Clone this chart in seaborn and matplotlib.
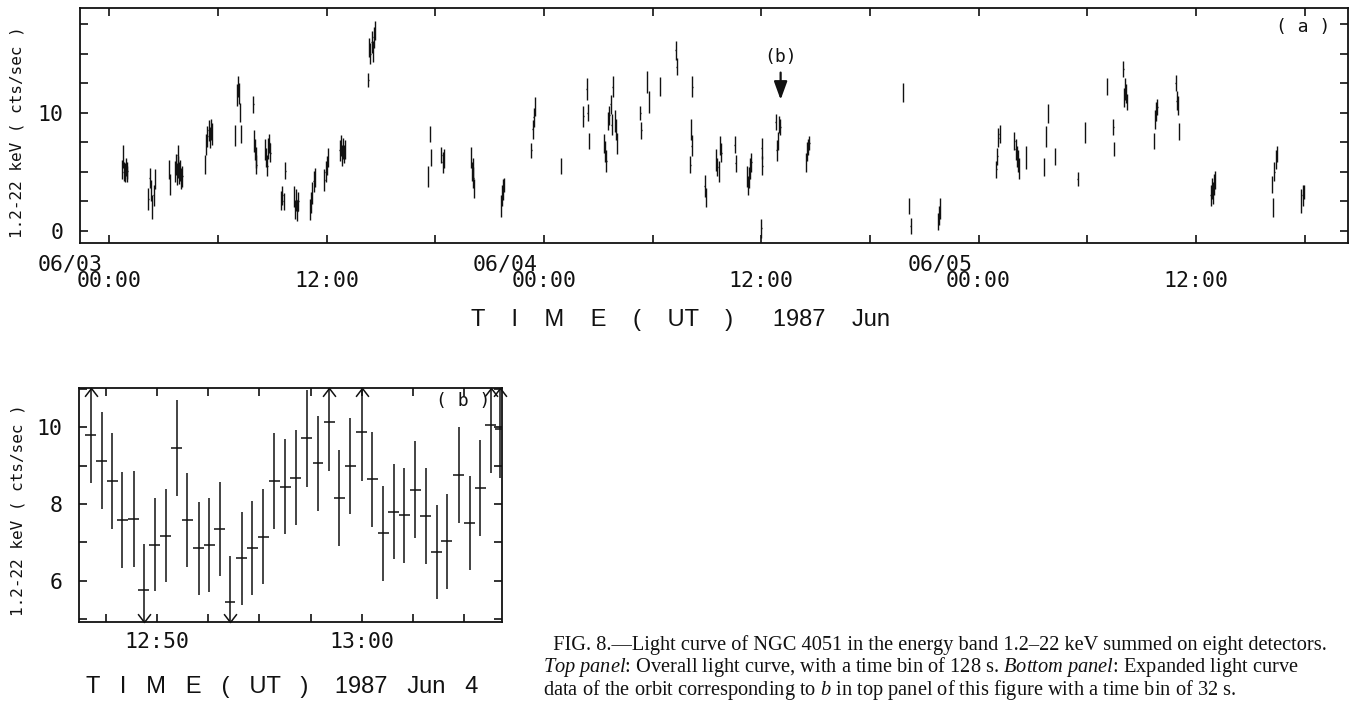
import matplotlib
matplotlib.use("Agg")
import matplotlib.pyplot as plt
import seaborn as sns
import numpy as np
from matplotlib.path import Path
from matplotlib.ticker import FixedLocator, MultipleLocator

# ---------------- data: top panel (a), hours since 1987 Jun 3 00:00 UT ----------------
a_time = [0.70, 0.75, 0.80, 0.85, 0.90, 0.95, 1.00,
          2.16, 2.22, 2.30, 2.36, 2.45, 2.52,
          3.30, 3.35, 3.62, 3.68, 3.74, 3.77, 3.80, 3.86, 3.92, 3.98, 4.04,
          5.29, 5.36, 5.42, 5.48, 5.54, 5.60, 5.66,
          6.95, 7.05, 7.10, 7.15, 7.22, 7.28,
          7.95, 8.00, 8.04, 8.08, 8.12,
          8.60, 8.66, 8.72, 8.78, 8.84, 8.90,
          9.50, 9.55, 9.62, 9.72,
          10.20, 10.26, 10.32, 10.38, 10.44,
          11.08, 11.14, 11.20, 11.28, 11.34,
          11.88, 11.94, 12.00, 12.06,
          12.72, 12.78, 12.84, 12.90, 12.96, 13.02,
          14.30, 14.36, 14.42, 14.48, 14.54, 14.60, 14.66,
          17.60, 17.70, 17.76,
          18.34, 18.40, 18.46,
          19.98, 20.02, 20.06, 20.10, 20.14,
          21.62, 21.68, 21.74, 21.80,
          23.30, 23.38, 23.44, 23.50,
          24.95,
          26.18, 26.36, 26.42, 26.48,
          27.32, 27.38, 27.44, 27.55, 27.62, 27.68, 27.74, 27.80, 27.92, 27.98, 28.04,
          29.32, 29.38, 29.70, 29.80,
          30.40,
          31.28, 31.33,
          32.08, 32.12, 32.15, 32.20,
          32.88, 32.94,
          33.52, 33.58, 33.66, 33.74, 33.80,
          34.54, 34.58,
          35.22, 35.28, 35.34, 35.40, 35.46,
          36.00, 36.03, 36.06,
          36.80, 36.86, 36.92, 36.98, 37.06,
          38.48, 38.54, 38.60, 38.66,
          43.82,
          44.15, 44.25,
          45.76, 45.82, 45.88,
          48.98, 49.04, 49.10, 49.16,
          49.98, 50.04, 50.10, 50.16, 50.22,
          50.62,
          51.62, 51.72, 51.84,
          52.22,
          53.48, 53.88,
          55.10, 55.44, 55.48,
          56.00, 56.05, 56.10, 56.15, 56.20,
          57.68, 57.76, 57.82, 57.88,
          58.88, 58.94, 59.00, 59.06,
          60.82, 60.88, 60.94, 61.00, 61.06,
          64.20, 64.26, 64.34, 64.42, 64.48,
          65.80, 65.90, 65.96]
a_rate = [5.2, 6.3, 5.0, 4.9, 5.4, 4.8, 5.1,
          2.7, 4.5, 3.4, 2.0, 3.0, 4.4,
          5.2, 3.9, 5.0, 5.6, 4.8, 6.4, 5.4, 4.9, 5.1, 4.4, 4.6,
          5.6, 7.3, 8.0, 8.5, 7.9, 8.6, 8.2,
          8.1, 11.5, 12.2, 11.6, 10.0, 8.2,
          10.7, 7.6, 6.9, 6.2, 5.6,
          6.9, 6.2, 5.5, 7.0, 7.4, 6.6,
          2.6, 3.0, 2.5, 5.1,
          2.9, 1.8, 2.6, 1.7, 2.5,
          1.8, 2.4, 3.2, 4.2, 4.5,
          4.3, 5.0, 5.5, 6.2,
          6.8, 7.2, 6.4, 7.0, 6.5, 6.9,
          12.8, 15.5, 15.0, 16.0, 15.2, 16.4, 17.0,
          4.6, 8.2, 6.2,
          6.4, 5.8, 6.1,
          6.2, 5.0, 5.3, 4.5, 3.6,
          2.1, 3.0, 3.5, 3.9,
          6.8, 8.6, 9.6, 10.5,
          5.5,
          9.7, 12.0, 10.0, 7.6,
          7.4, 6.7, 5.9, 9.3, 9.8, 10.7, 9.0, 12.2, 9.3, 8.6, 7.4,
          10.0, 8.5, 12.6, 10.9,
          12.2,
          15.3, 13.9,
          5.6, 8.6, 7.2, 12.2,
          3.8, 2.8,
          6.0, 5.4, 5.0, 7.2, 6.6,
          7.3, 5.7,
          4.6, 3.8, 4.5, 5.3, 5.8,
          0.2, 7.0, 5.5,
          9.2, 6.8, 7.6, 9.0, 8.8,
          5.8, 6.7, 7.1, 7.4,
          11.7,
          2.1, 0.4,
          0.8, 1.3, 1.9,
          5.2, 6.3, 7.9, 8.2,
          7.6, 6.9, 6.3, 5.9, 5.3,
          6.2,
          5.4, 8.0, 9.9,
          6.3,
          4.4, 8.3,
          12.2, 8.8, 6.9,
          13.7, 11.3, 12.0, 11.6, 10.9,
          7.6, 9.4, 10.1, 10.5,
          12.5, 11.0, 10.6, 8.4,
          3.0, 3.6, 3.2, 3.9, 4.3,
          3.9, 2.0, 5.0, 6.0, 6.5,
          2.5, 3.0, 3.3]
a_err = [0.8, 1.0, 0.8, 0.8, 0.8, 0.7, 0.7,
         0.9, 0.85, 0.9, 1.0, 0.9, 0.85,
         0.8, 0.9, 0.9, 0.9, 0.9, 0.9, 0.9, 0.9, 0.9, 0.9, 0.9,
         0.8, 0.9, 0.9, 0.9, 0.9, 0.9, 0.9,
         0.9, 0.9, 0.9, 0.9, 0.8, 0.8,
         0.7, 0.9, 0.9, 0.9, 0.8,
         0.9, 0.8, 0.9, 0.9, 0.8, 0.8,
         0.8, 0.8, 0.7, 0.7,
         0.9, 0.8, 0.9, 0.9, 0.8,
         0.9, 0.9, 0.9, 0.9, 0.8,
         0.9, 0.9, 0.8, 0.8,
         0.9, 0.9, 0.9, 0.9, 0.8, 0.8,
         0.6, 0.8, 0.9, 0.9, 0.9, 0.9, 0.8,
         0.9, 0.7, 0.7,
         0.7, 0.9, 0.8,
         0.9, 0.8, 0.9, 0.9, 0.8,
         0.9, 0.9, 0.9, 0.6,
         0.6, 0.8, 0.8, 0.8,
         0.7,
         0.9, 0.9, 0.7, 0.7,
         0.8, 0.9, 0.9, 0.8, 0.8, 0.8, 0.9, 0.9, 0.9, 0.9, 0.9,
         0.6, 0.7, 0.9, 0.9,
         0.8,
         0.8, 0.7,
         0.7, 0.9, 0.9, 0.9,
         0.9, 0.8,
         0.9, 0.8, 0.9, 0.8, 0.8,
         0.7, 0.7,
         0.9, 0.8, 0.9, 0.9, 0.8,
         0.8, 0.9, 0.8,
         0.7, 0.9, 0.8, 0.7, 0.7,
         0.8, 0.8, 0.7, 0.6,
         0.8,
         0.7, 0.7,
         0.7, 0.8, 0.9,
         0.7, 0.7, 0.8, 0.8,
         0.8, 0.9, 0.9, 0.9, 0.9,
         1.0,
         0.8, 0.9, 0.8,
         0.7,
         0.6, 0.9,
         0.7, 0.7, 0.6,
         0.7, 0.8, 0.9, 0.8, 0.7,
         0.7, 0.8, 0.8, 0.7,
         0.7, 0.8, 0.8, 0.7,
         0.9, 0.9, 0.9, 0.9, 0.8,
         0.7, 0.8, 0.8, 0.8, 0.7,
         1.0, 0.9, 0.6]
a_bin_hours = 128 / 3600.0
a_major_hours = [0, 12, 24, 36, 48, 60]
a_major_labels = ["00:00", "12:00", "00:00", "12:00", "00:00", "12:00"]
a_minor_hours = [6, 18, 30, 42, 54, 66]
a_day_hours = [0, 24, 48]
a_day_labels = ["06/03", "06/04", "06/05"]
a_yticks = [0, 10]
a_orbit_b = 37.07          # position of the (b) marker, hours

# ---------------- data: bottom panel (b), minutes after 12:00 UT on Jun 4 ----------------
b_time = [46.75, 47.28, 47.80, 48.30, 48.86, 49.35, 49.87, 50.41, 50.95, 51.47,
          52.02, 52.54, 53.05, 53.56, 54.13, 54.65, 55.19, 55.73, 56.25, 56.77,
          57.31, 57.86, 58.40, 58.91, 59.43, 60.00, 60.52, 61.06, 61.55, 62.07,
          62.61, 63.13, 63.67, 64.16, 64.73, 65.27, 65.79, 66.31, 66.77]
b_rate = [9.80, 9.13, 8.60, 7.58, 7.60, 5.74, 6.94, 7.17, 9.47, 7.58,
          6.84, 6.93, 7.34, 5.43, 6.58, 6.84, 7.15, 8.60, 8.45, 8.69,
          9.71, 9.06, 10.15, 8.15, 9.00, 9.89, 8.64, 7.23, 7.80, 7.70,
          8.37, 7.69, 6.74, 7.02, 8.76, 7.51, 8.41, 10.06, 9.95]
b_err = [1.26, 1.27, 1.25, 1.26, 1.25, 1.21, 1.22, 1.22, 1.25, 1.23,
         1.22, 1.22, 1.23, 1.20, 1.21, 1.23, 1.23, 1.25, 1.24, 1.24,
         1.26, 1.25, 1.28, 1.26, 1.25, 1.28, 1.25, 1.24, 1.25, 1.25,
         1.27, 1.25, 1.23, 1.23, 1.25, 1.23, 1.25, 1.26, 1.27]
b_bin_min = 32 / 60.0
b_major_min = [50, 60]
b_major_labels = ["12:50", "13:00"]
b_yticks = [6, 8, 10]

caption = ("  FIG. 8.\u2014Light curve of NGC 4051 in the energy band 1.2\u201322 keV summed on eight detectors.\n"
           r"$\it{Top\ panel}$: Overall light curve, with a time bin of 128 s. $\it{Bottom\ panel}$: Expanded light curve" "\n"
           r"data of the orbit corresponding to $\it{b}$ in top panel of this figure with a time bin of 32 s.")

# ---------------- style ----------------
sns.set_theme(style="ticks")
mono = ["DejaVu Sans Mono", "DejaVu Sans"]
plt.rcParams["font.family"] = mono
plt.rcParams["mathtext.fontset"] = "custom"
plt.rcParams["mathtext.rm"] = "Liberation Serif"
plt.rcParams["mathtext.it"] = "Liberation Serif:italic"
INK = "#111111"

fig = plt.figure(figsize=(13.53, 7.04), dpi=100)
fig.patch.set_facecolor("white")
ax1 = fig.add_axes([0.0591, 0.6548, 0.9372, 0.3338])
ax2 = fig.add_axes([0.0584, 0.1161, 0.3126, 0.3323])

for ax in (ax1, ax2):
    ax.set_facecolor("white")
    for s in ax.spines.values():
        s.set_linewidth(1.3)
        s.set_color(INK)
    ax.tick_params(which="both", direction="in", top=True, right=True,
                   length=5.5, width=1.2, color=INK, labelcolor=INK,
                   labelsize=15.5)
    ax.grid(False)

# ---- top panel ----
ax1.errorbar(a_time, a_rate, yerr=a_err, xerr=a_bin_hours / 2, fmt="none",
             ecolor=INK, elinewidth=1.0, capsize=0)
ax1.set_xlim(-1.62, 68.40)
ax1.set_ylim(-1.04, 18.87)
ax1.xaxis.set_major_locator(FixedLocator(a_major_hours))
ax1.set_xticklabels(a_major_labels)
ax1.xaxis.set_minor_locator(FixedLocator(a_minor_hours))
ax1.yaxis.set_major_locator(FixedLocator(a_yticks))
ax1.yaxis.set_minor_locator(MultipleLocator(2.5))
ax1.tick_params(axis="x", which="major", pad=20)
ax1.tick_params(axis="y", which="major", pad=12)
for h, lab in zip(a_day_hours, a_day_labels):
    ax1.annotate(lab, xy=(h, 0), xycoords=("data", "axes fraction"),
                 xytext=(-4.5, -8.5), textcoords="offset points",
                 ha="right", va="top", fontsize=15.5, color=INK)
ax1.set_ylabel("1.2-22 keV ( cts/sec )", fontsize=11.5, color=INK)
ax1.yaxis.set_label_coords(-0.0434, 0.474)
ax1.text(0.965, 0.919, "( a )", transform=ax1.transAxes, ha="center",
         va="center", fontsize=13, color=INK)
ax1.annotate("(b)", xy=(a_orbit_b, 14.7), ha="center", va="center",
             fontsize=13, color=INK)
ax1.annotate("", xy=(a_orbit_b, 11.1), xytext=(a_orbit_b, 13.4),
             arrowprops=dict(arrowstyle="-|>,head_length=0.55,head_width=0.2",
                             mutation_scale=20, color=INK, lw=1.6,
                             shrinkA=0, shrinkB=0))

# ---- bottom panel ----
b_t = np.array(b_time)
b_v = np.array(b_rate)
b_e = np.array(b_err)
ax2.errorbar(b_t, b_v, yerr=b_e, xerr=b_bin_min / 2, fmt="none",
             ecolor=INK, elinewidth=1.1, capsize=0)
ax2.set_xlim(46.18, 66.85)
ax2.set_ylim(4.91, 11.02)
ax2.xaxis.set_major_locator(FixedLocator(b_major_min))
ax2.set_xticklabels(b_major_labels)
ax2.xaxis.set_minor_locator(MultipleLocator(2.5))
ax2.yaxis.set_major_locator(FixedLocator(b_yticks))
ax2.yaxis.set_minor_locator(MultipleLocator(1))
ax2.tick_params(axis="x", which="major", pad=7)
ax2.tick_params(axis="y", which="major", pad=12)
ax2.set_ylabel("1.2-22 keV ( cts/sec )", fontsize=11.5, color=INK)
ax2.yaxis.set_label_coords(-0.1277, 0.479)
ax2.text(0.908, 0.946, "( b )", transform=ax2.transAxes, ha="center",
         va="center", fontsize=13, color=INK)

# arrow heads where the error bars run off the plot
up_head = Path([(-1.0, -1.3), (0.0, 0.0), (1.0, -1.3)],
               [Path.MOVETO, Path.LINETO, Path.LINETO])
down_head = Path([(-1.0, 1.3), (0.0, 0.0), (1.0, 1.3)],
                 [Path.MOVETO, Path.LINETO, Path.LINETO])
y0, y1 = ax2.get_ylim()
hi = b_v + b_e > y1
lo = b_v - b_e < y0
ax2.plot(b_t[hi], np.full(hi.sum(), y1), linestyle="none", marker=up_head,
         markersize=12, markerfacecolor="none", markeredgecolor=INK,
         markeredgewidth=1.1, clip_on=False)
ax2.plot(b_t[lo], np.full(lo.sum(), y0), linestyle="none", marker=down_head,
         markersize=12, markerfacecolor="none", markeredgecolor=INK,
         markeredgewidth=1.1, clip_on=False)

# ---- axis titles ----
fig.text(0.5026, 0.5455, "T    I    M    E    (    UT    )      1987    Jun",
         ha="center", va="center", fontsize=17, color=INK,
         family=["Liberation Sans", "DejaVu Sans"])
fig.text(0.2085, 0.024, "T   I   M   E   (   UT   )    1987   Jun   4",
         ha="center", va="center", fontsize=17, color=INK,
         family=["Liberation Sans", "DejaVu Sans"])

# ---- caption ----
fig.text(0.4013, 0.0497, caption, ha="left", va="center", fontsize=14.7,
         linespacing=0.97, color=INK, family=["Liberation Serif", "DejaVu Serif"])

fig.savefig("out.png", dpi=100, facecolor="white")
